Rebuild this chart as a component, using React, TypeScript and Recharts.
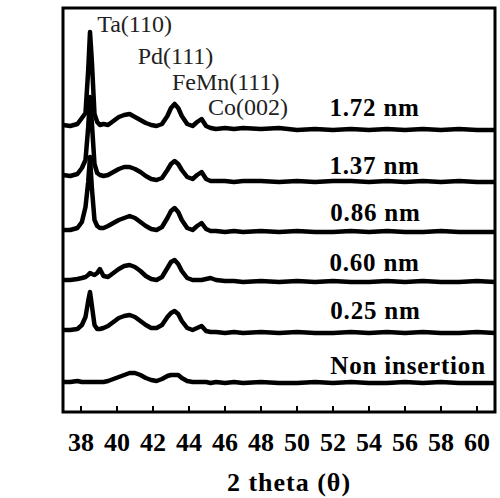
import {
  LineChart, Line, XAxis, YAxis, ReferenceDot, ReferenceArea,
} from "recharts";

const theta = [
  37.0, 37.4, 37.8, 38.05, 38.25, 38.4, 38.5, 38.6, 38.75, 38.9,
  39.05, 39.25, 39.5, 39.8, 40.1, 40.4, 40.7, 41.0, 41.3, 41.6,
  41.9, 42.2, 42.5, 42.8, 43.0, 43.2, 43.4, 43.6, 43.9, 44.2,
  44.45, 44.7, 44.95, 45.2, 45.5, 46.0, 46.5, 47, 48, 49,
  50, 51, 52, 53, 54, 55, 56, 57, 58, 59,
  60, 61,
];

// intensities above each pattern's own baseline (a.u.)
const i172 = [
  5, 4, 6, 12, 17, 60, 98, 70, 16, 8,
  5, 6, 5, 9, 13, 15, 16, 13, 10, 7,
  5, 4, 6, 14, 22, 26, 22, 14, 6, 4,
  8, 11, 4, 2, 1, 2, 1, 2, 1, 2,
  0, 1, 0, 1, 0, 1, 0, 1, 0, 1,
  0, 0,
];
const i137 = [
  7, 6, 8, 14, 22, 55, 85, 60, 18, 9,
  7, 6, 7, 10, 13, 15, 15, 13, 10, 6,
  3, 2, 4, 12, 18, 21, 18, 12, 5, 3,
  7, 10, 3, 1, 1, 1, 0, 1, 1, 0,
  1, 0, 1, 1, 0, 1, 0, 1, 0, 1,
  0, 0,
];
const i086 = [
  2, 2, 4, 10, 25, 50, 75, 45, 12, 6,
  4, 4, 6, 9, 12, 14, 16, 14, 10, 6,
  3, 2, 5, 14, 21, 24, 20, 12, 4, 2,
  6, 9, 3, 1, 1, 0, 1, 0, 1, 0,
  1, 0, 0, 1, 0, 1, 0, 0, 1, 0,
  0, 0,
];
const i060 = [
  2, 2, 3, 4, 5, 7, 9, 8, 7, 9,
  13, 6, 5, 9, 13, 16, 17, 15, 11, 6,
  3, 2, 5, 14, 20, 22, 18, 11, 4, 2,
  2, 2, 3, 4, 2, 1, 1, 0, 1, 0,
  1, 0, 1, 0, 0, 1, 0, 1, 0, 0,
  1, 0,
];
const i025 = [
  3, 3, 4, 8, 16, 32, 41, 28, 8, 4,
  4, 5, 7, 11, 15, 17, 18, 16, 12, 8,
  5, 5, 8, 16, 20, 22, 19, 12, 5, 3,
  5, 7, 2, 1, 1, 0, 1, 0, 1, 0,
  1, 0, 0, 1, 0, 1, 0, 1, 0, 0,
  1, 0,
];
const iNon = [
  1, 1, 2, 1, 1, 1, 1, 1, 1, 1,
  1, 1, 2, 4, 6, 8, 10, 10, 8, 5,
  3, 2, 4, 7, 8, 8, 8, 5, 2, 1,
  1, 1, 1, 0, 1, 0, 1, 0, 1, 0,
  0, 1, 0, 1, 0, 0, 1, 0, 1, 0,
  0, 0,
];

const seriesNames = ["1.72 nm", "1.37 nm", "0.86 nm", "0.60 nm", "0.25 nm", "Non insertion"];
const seriesValues = [i172, i137, i086, i060, i025, iNon];
// vertical stacking offsets (a.u.)
const offsets = [282, 230, 180, 130, 79, 29];
// where each sample label sits (2θ, a.u.)
const nameX = [51.8, 51.8, 51.85, 51.8, 51.85, 51.85];
const nameY = [305, 247, 200, 150, 102, 47];

const peakNames = ["Ta(110)", "Pd(111)", "FeMn(111)", "Co(002)"];
const peakX = [38.9, 41.15, 43.05, 45.05];
const peakY = [388, 356, 330, 305];

const xTicks = [38, 40, 42, 44, 46, 48, 50, 52, 54, 56, 58, 60];

const data = theta.map((t, k) => {
  const row: Record<string, number> = { theta: t };
  seriesValues.forEach((vals, s) => {
    row["s" + s] = offsets[s] + vals[k];
  });
  return row;
});

const FONT = "'Liberation Serif', 'Times New Roman', serif";

function XTick(props: any) {
  const { x, payload } = props;
  return (
    <text x={x} y={451} textAnchor="middle" fontFamily={FONT} fontWeight="bold" fontSize={26} fill="#000">
      {payload.value}
    </text>
  );
}

export default function App() {
  return (
    <div style={{ position: "absolute", left: 0, top: 0, background: "#fff" }}>
      <LineChart width={500} height={498} data={data} margin={{ top: 8, right: 5, left: 63, bottom: 0 }}>
        <XAxis
          dataKey="theta"
          type="number"
          domain={[37, 61]}
          ticks={xTicks}
          height={86}
          tickSize={-6}
          tick={<XTick />}
          axisLine={false}
          tickLine={{ stroke: "#000", strokeWidth: 2 }}
          label={{
            value: "2 theta (θ)",
            position: "insideBottom",
            offset: 7,
            dx: 10,
            style: { fontFamily: FONT, fontWeight: "bold", fontSize: 26, letterSpacing: 1, fill: "#000" },
          }}
        />
        <YAxis
          domain={[0, 404]}
          hide
          label={{
            content: () => (
              <text
                x={27}
                y={207}
                transform="rotate(-90 27 207)"
                textAnchor="middle"
                dominantBaseline="central"
                fontFamily={FONT}
                fontWeight="bold"
                fontSize={26}
                fill="#000"
              >
                Intensity
              </text>
            ),
          }}
        />
        <ReferenceArea
          x1={37}
          x2={61}
          y1={0}
          y2={404}
          fill="none"
          stroke="#000"
          strokeWidth={3}
          ifOverflow="visible"
        />
        {seriesNames.map((n, s) => (
          <Line
            key={n}
            dataKey={"s" + s}
            name={n}
            type="linear"
            stroke="#000"
            strokeWidth={4.5}
            strokeLinejoin="round"
            dot={false}
            isAnimationActive={false}
          />
        ))}
        {seriesNames.map((n, s) => (
          <ReferenceDot
            key={"lbl" + n}
            x={nameX[s]}
            y={nameY[s]}
            r={0}
            ifOverflow="visible"
            shape={(p: any) => (
              <text
                x={p.cx}
                y={p.cy}
                dominantBaseline="central"
                fontFamily={FONT}
                fontWeight="bold"
                fontSize={25}
                letterSpacing={0.8}
                fill="#000"
              >
                {n}
              </text>
            )}
          />
        ))}
        {peakNames.map((n, s) => (
          <ReferenceDot
            key={"pk" + n}
            x={peakX[s]}
            y={peakY[s]}
            r={0}
            ifOverflow="visible"
            shape={(p: any) => (
              <text
                x={p.cx}
                y={p.cy}
                dominantBaseline="central"
                fontFamily={FONT}
                fontSize={24}
                fill="#222"
              >
                {n}
              </text>
            )}
          />
        ))}
      </LineChart>
    </div>
  );
}
